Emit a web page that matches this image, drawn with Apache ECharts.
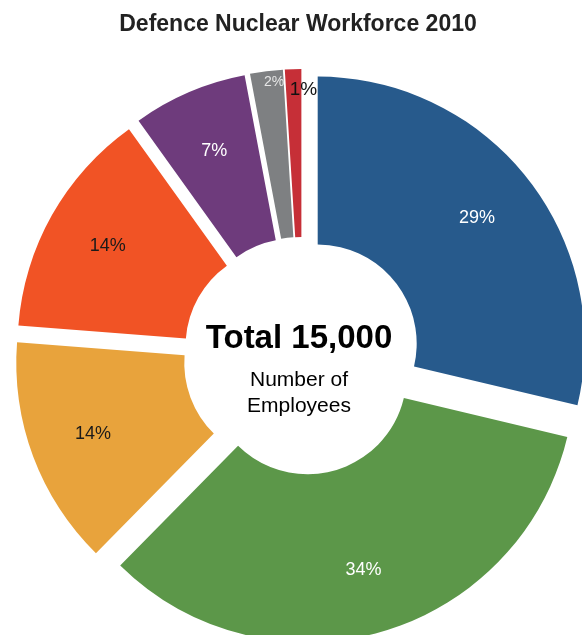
<!DOCTYPE html>
<html>
<head>
<meta charset="utf-8">
<script src="https://cdn.jsdelivr.net/npm/echarts@6/dist/echarts.min.js"></script>
<style>
  html, body { margin: 0; padding: 0; background: #fff; }
  #chart { width: 582px; height: 635px; }
</style>
</head>
<body>
<div id="chart"></div>
<script>
// Share of the workforce per group, in percent (clockwise from 12 o'clock)
const groups = ['Group 1', 'Group 2', 'Group 3', 'Group 4', 'Group 5', 'Group 6', 'Group 7'];
const shares = [29, 34, 14, 14, 7, 2, 1];
const totalEmployees = 15000;

// Styling
const palette = ['#275a8c', '#5c9749', '#e8a33c', '#f15325', '#6e3b7c', '#7e8082', '#c62f37'];
const labelInk = ['#ffffff', '#ffffff', '#1a1a1a', '#1a1a1a', '#ffffff', '#e6e6e6', '#111111'];
const smallSlice = [false, false, false, false, false, true, true];

const FONT = '"Liberation Sans", Arial, Helvetica, sans-serif';
const CENTER = [302, 356];
const OFFSET = 20;

const chart = echarts.init(document.getElementById('chart'), null, { renderer: 'canvas' });

function pieBase(radius) {
  return {
    type: 'pie',
    center: CENTER,
    radius: radius,
    startAngle: 90,
    clockwise: true,
    selectedMode: 'multiple',
    selectedOffset: OFFSET,
    avoidLabelOverlap: false,
    labelLayout: { hideOverlap: false },
    emphasis: { disabled: true },
    labelLine: { show: false },
    animation: false
  };
}

// Exploded ring sectors
const ringSeries = Object.assign(pieBase([99, 267]), {
  silent: true,
  label: { show: false },
  itemStyle: { borderWidth: 0 },
  data: shares.map((v, i) => ({
    name: groups[i],
    value: v,
    selected: true,
    itemStyle: { color: palette[i] }
  }))
});

// Percentage labels for the larger slices (placed midway through a wider band)
const mainLabelSeries = Object.assign(pieBase([140, 260]), {
  silent: true,
  z: 3,
  itemStyle: { color: 'rgba(0,0,0,0)', borderWidth: 0 },
  data: shares.map((v, i) => ({
    name: groups[i],
    value: v,
    selected: true,
    label: {
      show: !smallSlice[i],
      position: 'inside',
      formatter: v + '%',
      color: labelInk[i],
      fontFamily: FONT,
      fontSize: 18
    }
  }))
});

// Labels for the two thin slices near the top, nudged clear of each other
const smallLabelNudge = { 5: { dx: 6, dy: -3 }, 6: { dx: 10, dy: 7 } };
const smallLabelSeries = Object.assign(pieBase([228, 272]), {
  silent: true,
  z: 4,
  itemStyle: { color: 'rgba(0,0,0,0)', borderWidth: 0 },
  labelLayout: function (params) {
    const n = smallLabelNudge[params.dataIndex];
    return n ? { dx: n.dx, dy: n.dy, hideOverlap: false } : { hideOverlap: false };
  },
  data: shares.map((v, i) => ({
    name: groups[i],
    value: v,
    selected: true,
    label: {
      show: smallSlice[i],
      position: 'inside',
      formatter: v + '%',
      color: labelInk[i],
      fontFamily: FONT,
      fontSize: i === 5 ? 14 : 19
    }
  }))
});

chart.setOption({
  animation: false,
  backgroundColor: '#ffffff',
  series: [ringSeries, mainLabelSeries, smallLabelSeries],
  graphic: [
    {
      type: 'text', x: 298, y: 25, silent: true,
      style: {
        text: 'Defence Nuclear Workforce 2010',
        fontFamily: FONT, fontSize: 23, fontWeight: 'bold',
        fill: '#222222', align: 'center', verticalAlign: 'middle'
      }
    },
    {
      type: 'text', x: 299, y: 339, silent: true,
      style: {
        text: 'Total ' + totalEmployees.toLocaleString('en-US'),
        fontFamily: FONT, fontSize: 33, fontWeight: 'bold',
        fill: '#000000', align: 'center', verticalAlign: 'middle'
      }
    },
    {
      type: 'text', x: 299, y: 380, silent: true,
      style: {
        text: 'Number of',
        fontFamily: FONT, fontSize: 21,
        fill: '#000000', align: 'center', verticalAlign: 'middle'
      }
    },
    {
      type: 'text', x: 299, y: 406, silent: true,
      style: {
        text: 'Employees',
        fontFamily: FONT, fontSize: 21,
        fill: '#000000', align: 'center', verticalAlign: 'middle'
      }
    }
  ]
});
</script>
</body>
</html>
